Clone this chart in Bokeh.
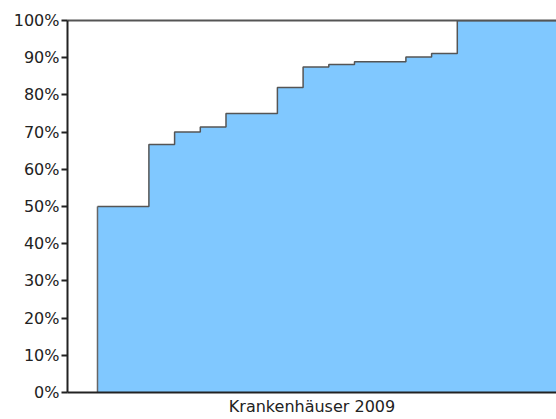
from bokeh.plotting import figure
from bokeh.models import NumeralTickFormatter, FixedTicker, Range1d, LinearAxis
from bokeh.embed import file_html
from bokeh.resources import INLINE

# step positions (hospital index) and cumulative share
steps_x = [0, 2, 3, 4, 5, 7, 8, 9, 10, 12, 13, 14, 18]
share = [0.50, 0.667, 0.70, 0.714, 0.75, 0.82, 0.875, 0.882, 0.889, 0.902, 0.911, 1.0, 1.0]
y_ticks = [0, 0.1, 0.2, 0.3, 0.4, 0.5, 0.6, 0.7, 0.8, 0.9, 1.0]
x_label = "Krankenhäuser 2009"

FONT = "DejaVu Sans"

p = figure(width=556, height=419, output_backend="svg", toolbar_location=None,
           x_range=Range1d(-1.167, 17.86), y_range=Range1d(0, 1.0),
           min_border_left=67, min_border_right=0, min_border_top=20, min_border_bottom=27)

p.varea_step(x=steps_x, y1=[0] * len(steps_x), y2=share, step_mode="after",
             fill_color="#80C8FF", fill_alpha=1.0)
p.step(x=steps_x, y=share, mode="after", line_color="#555555", line_width=1.5)
p.segment(x0=[steps_x[0]], y0=[0], x1=[steps_x[0]], y1=[share[0]],
          line_color="#666666", line_width=1.5)

p.xgrid.visible = False
p.ygrid.visible = False
p.outline_line_color = None
p.background_fill_color = "white"
p.border_fill_color = "white"

ya = p.left[0]
ya.ticker = FixedTicker(ticks=y_ticks)
ya.formatter = NumeralTickFormatter(format="0%")
ya.major_label_text_font = FONT
ya.major_label_text_font_size = "16px"
ya.major_label_text_color = "#222222"
ya.major_tick_out = 6
ya.major_tick_in = 0
ya.minor_tick_line_color = None
ya.axis_line_color = "#222222"
ya.axis_line_width = 2
ya.major_tick_line_color = "#222222"
ya.major_tick_line_width = 2
ya.major_label_standoff = 2

xa = p.below[0]
xa.ticker = FixedTicker(ticks=[])
xa.major_tick_line_color = None
xa.minor_tick_line_color = None
xa.axis_label = x_label
xa.axis_label_text_font = FONT
xa.axis_label_text_font_size = "16px"
xa.axis_label_text_font_style = "normal"
xa.axis_label_text_color = "#222222"
xa.axis_label_standoff = 4
xa.axis_line_color = "#222222"
xa.axis_line_width = 2

top_axis = LinearAxis(ticker=FixedTicker(ticks=[]), axis_line_color="#555555",
                      axis_line_width=2, major_tick_line_color=None,
                      minor_tick_line_color=None)
p.add_layout(top_axis, "above")

open("out.html", "w").write(file_html(p, INLINE))
